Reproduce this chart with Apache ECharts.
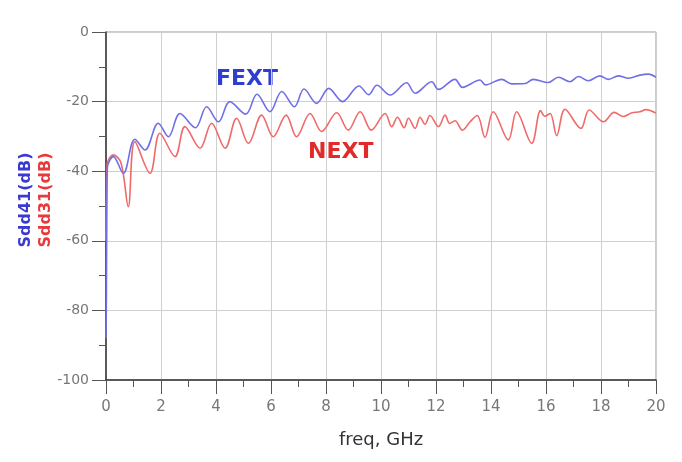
<!DOCTYPE html>
<html>
<head>
<meta charset="utf-8">
<script src="https://cdn.jsdelivr.net/npm/echarts@6/dist/echarts.min.js"></script>
<style>
html,body{margin:0;padding:0;background:#fff;}
#c{width:682px;height:462px;}
</style>
</head>
<body>
<div id="c"></div>
<script>
// FEXT: Sdd41 (dB) vs frequency (GHz)
const fextPoints = [
  [0.00,-88],[0.015,-75],[0.03,-52],[0.05,-39],[0.27,-35.8],[0.63,-40.6],
  [1.05,-30.8],[1.42,-33.9],[1.90,-26.2],[2.27,-30.1],[2.69,-23.4],[3.25,-27.5],
  [3.66,-21.5],[4.09,-25.8],[4.50,-20.0],[5.08,-23.6],[5.49,-17.9],[5.96,-22.9],
  [6.39,-17.1],[6.85,-21.5],[7.20,-16.4],[7.66,-20.5],[8.10,-16.2],[8.60,-20.0],
  [9.20,-15.5],[9.55,-18.0],[9.85,-15.3],[10.33,-18.1],[10.93,-14.6],[11.24,-17.6],
  [11.84,-14.3],[12.09,-16.5],[12.69,-13.6],[12.96,-15.9],[13.60,-13.8],[13.80,-15.2],
  [14.39,-13.6],[14.75,-14.9],[15.24,-14.8],[15.54,-13.6],[16.08,-14.5],[16.45,-13.0],
  [16.87,-14.3],[17.18,-12.8],[17.54,-14.0],[17.96,-12.6],[18.27,-13.6],[18.63,-12.6],
  [19.00,-13.3],[19.42,-12.4],[19.72,-12.1],[20.00,-13.0]
];
// NEXT: Sdd31 (dB) vs frequency (GHz)
const nextPoints = [
  [0.00,-60],[0.02,-45],[0.05,-37.7],[0.27,-35.3],[0.55,-37.7],[0.81,-50.2],
  [1.05,-31.5],[1.60,-40.6],[1.96,-29.1],[2.51,-35.8],[2.87,-27.2],[3.42,-33.4],
  [3.84,-26.2],[4.33,-33.4],[4.75,-24.8],[5.18,-32.0],[5.66,-23.9],[6.08,-30.1],
  [6.55,-23.9],[6.93,-30.1],[7.42,-23.4],[7.84,-28.6],[8.39,-23.2],[8.81,-28.2],
  [9.24,-22.9],[9.65,-28.2],[10.15,-23.4],[10.39,-27.2],[10.60,-24.5],[10.84,-27.5],
  [11.00,-24.8],[11.24,-27.7],[11.42,-24.5],[11.60,-26.5],[11.78,-24.0],[12.09,-27.2],
  [12.33,-23.9],[12.50,-26.3],[12.69,-25.5],[12.96,-28.2],[13.24,-25.8],[13.50,-24.0],
  [13.78,-30.3],[14.08,-22.9],[14.63,-31.0],[14.93,-22.9],[15.48,-32.0],[15.80,-22.6],
  [15.96,-24.2],[16.15,-23.4],[16.39,-29.8],[16.69,-22.2],[17.27,-27.7],[17.57,-22.4],
  [18.09,-25.8],[18.48,-23.1],[18.81,-24.3],[19.10,-23.3],[19.42,-22.9],[19.63,-22.3],
  [20.00,-23.3]
];
const xTickRange = [0, 20, 2];
const yTickRange = [-100, 0, 20];
const xAxisTitle = 'freq, GHz';
const yTitleFext = 'Sdd41(dB)';
const yTitleNext = 'Sdd31(dB)';
const fextLabel = 'FEXT';
const nextLabel = 'NEXT';

const chart = echarts.init(document.getElementById('c'), null, {renderer: 'canvas'});
const FONT = 'DejaVu Sans';
const axisCommon = {
  axisLine: {show: true, onZero: false, lineStyle: {color: '#333', width: 1.5}},
  axisTick: {show: true, length: 14, lineStyle: {color: '#555', width: 1}},
  minorTick: {show: true, splitNumber: 2, length: 7, lineStyle: {color: '#555', width: 1}},
  splitLine: {show: true, lineStyle: {color: '#cfcfcf', width: 1}},
  minorSplitLine: {show: false}
};
chart.setOption({
  animation: false,
  backgroundColor: '#fff',
  grid: {left: 106, right: 26, top: 32, bottom: 82, show: true, borderColor: '#999', borderWidth: 1, backgroundColor: 'transparent'},
  xAxis: Object.assign({
    type: 'value', min: xTickRange[0], max: xTickRange[1], interval: xTickRange[2],
    name: xAxisTitle, nameLocation: 'middle', nameGap: 51,
    nameTextStyle: {fontFamily: FONT, fontSize: 18, color: '#333'},
    axisLabel: {margin: 20, fontFamily: FONT, fontSize: 15, color: '#777'}
  }, axisCommon),
  yAxis: Object.assign({
    type: 'value', min: yTickRange[0], max: yTickRange[1], interval: yTickRange[2],
    axisLabel: {margin: 17, fontFamily: FONT, fontSize: 14, color: '#777'}
  }, axisCommon),
  series: [
    {type: 'line', data: nextPoints, showSymbol: false, smooth: 0.35, z: 2,
     lineStyle: {color: '#f06a6a', width: 1.6}},
    {type: 'line', data: fextPoints, showSymbol: false, smooth: 0.35, z: 3,
     lineStyle: {color: '#7070e4', width: 1.6}}
  ],
  graphic: [
    {type: 'text', x: 26, y: 200, rotation: Math.PI / 2,
     style: {text: yTitleFext, fill: '#3a3ad2', font: 'bold 16px "DejaVu Sans"', align: 'center', verticalAlign: 'middle', textAlign: 'center', textVerticalAlign: 'middle'}},
    {type: 'text', x: 46, y: 200, rotation: Math.PI / 2,
     style: {text: yTitleNext, fill: '#e83a3a', font: 'bold 16px "DejaVu Sans"', align: 'center', verticalAlign: 'middle', textAlign: 'center', textVerticalAlign: 'middle'}},
    {type: 'text', x: 216, y: 79,
     style: {text: fextLabel, fill: '#2f3ed0', font: 'bold 22px "DejaVu Sans"', align: 'left', verticalAlign: 'middle', textAlign: 'left', textVerticalAlign: 'middle'}},
    {type: 'text', x: 308, y: 152,
     style: {text: nextLabel, fill: '#e22a2a', font: 'bold 22px "DejaVu Sans"', align: 'left', verticalAlign: 'middle', textAlign: 'left', textVerticalAlign: 'middle'}}
  ]
});
</script>
</body>
</html>
